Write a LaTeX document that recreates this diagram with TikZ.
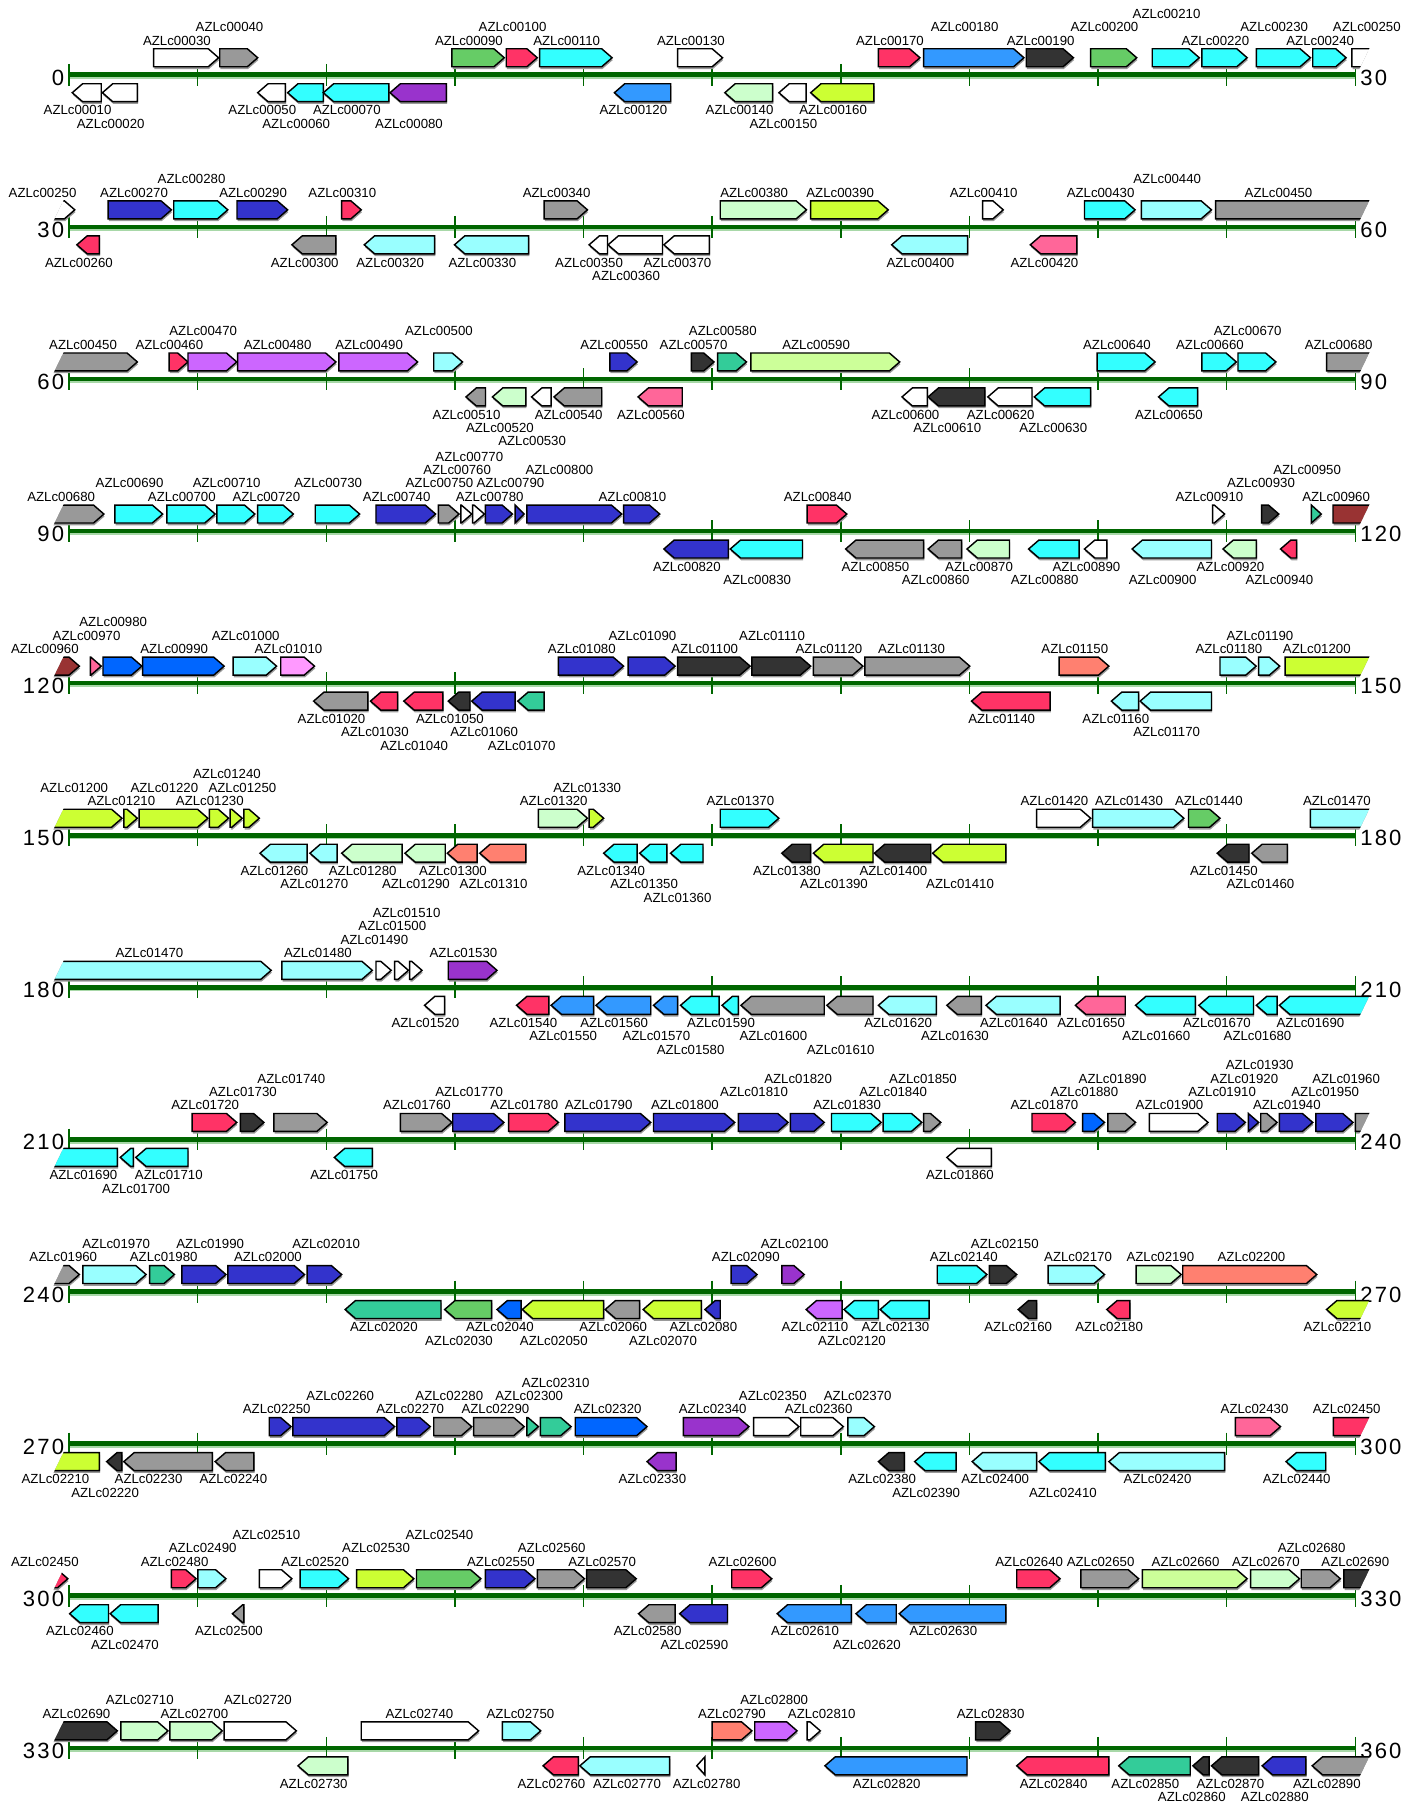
\documentclass[tikz,border=0pt]{standalone}
\usepackage{fontspec}
\setmainfont{Liberation Sans}
\newfontfamily\numfont[LetterSpace=10]{Liberation Sans}
\definecolor{cW}{HTML}{FFFFFF}
\definecolor{cGy}{HTML}{999999}
\definecolor{cR}{HTML}{FF3366}
\definecolor{cC}{HTML}{33FFFF}
\definecolor{cLC}{HTML}{99FFFF}
\definecolor{cB}{HTML}{3399FF}
\definecolor{cDB}{HTML}{3333CC}
\definecolor{cD}{HTML}{333333}
\definecolor{cG}{HTML}{66CC66}
\definecolor{cLG}{HTML}{CCFFCC}
\definecolor{cYG}{HTML}{CCFF33}
\definecolor{cPG}{HTML}{CCFF99}
\definecolor{cPu}{HTML}{9933CC}
\definecolor{cV}{HTML}{CC66FF}
\definecolor{cPk}{HTML}{FF6699}
\definecolor{cT}{HTML}{33CC99}
\definecolor{cRB}{HTML}{0066FF}
\definecolor{cS}{HTML}{FF8070}
\definecolor{cDR}{HTML}{993333}
\definecolor{cLP}{HTML}{FF99FF}
\definecolor{axgreen}{HTML}{006600}
\definecolor{axlight}{HTML}{A8D8A8}
\tikzset{
  gene/.style={draw=black, line width=0.75pt},
  gshadow/.style={fill=black!40},
  lbl/.style={font=\fontsize{6.9}{7}\selectfont, inner sep=0pt},
  num/.style={font=\numfont\fontsize{11.5}{12}\selectfont, inner sep=0pt},
  axisl/.style={draw=axgreen, line width=2.4pt},
  axshadow/.style={draw=axlight, line width=2.4pt},
  tickl/.style={draw=axgreen, line width=0.75pt}
}
\def\topdx{0}
% forward gene (top strand): [label dx]{x1}{x2}{colour}{label}{level}
\newcommand\genef[6][0]{%
  \pgfmathsetmacro\gXa{#2<48 ? #2-40 : #2}%
  \pgfmathsetmacro\gXb{#3>1180 ? #3+40 : #3}%
  \pgfmathsetmacro\gXh{\gXb-min(9,\gXb-\gXa)}%
  \pgfmathsetmacro\gYt{\ay-22.6}%
  \pgfmathsetmacro\gYb{\ay-7}%
  \pgfmathsetmacro\gYm{\ay-14.8}%
  \begin{scope}
    \clip (46,\gYb+3) -- (56,\gYt-2) -- (1191,\gYt-2) -- (1181,\gYb+3) -- cycle;
    \fill[gshadow,shift={(0.6,2)}] (\gXa,\gYt) -- (\gXh,\gYt) -- (\gXb,\gYm) -- (\gXh,\gYb) -- (\gXa,\gYb) -- cycle;
    \draw[gene,fill=#4] (\gXa,\gYt) -- (\gXh,\gYt) -- (\gXb,\gYm) -- (\gXh,\gYb) -- (\gXa,\gYb) -- cycle;
  \end{scope}
  \pgfmathsetmacro\gLx{(#2+#3)/2-8+#1+\topdx}%
  \pgfmathsetmacro\gLy{\ay-29.8-11.6*#6}%
  \node[lbl] (\rid-#5) at (\gLx,\gLy) {#5};
}
% reverse gene (bottom strand)
\newcommand\gener[6][0]{%
  \pgfmathsetmacro\gXa{#2<48 ? #2-40 : #2}%
  \pgfmathsetmacro\gXb{#3>1180 ? #3+40 : #3}%
  \pgfmathsetmacro\gXh{\gXa+min(9,\gXb-\gXa)}%
  \pgfmathsetmacro\gYt{\ay+7.8}%
  \pgfmathsetmacro\gYb{\ay+23.4}%
  \pgfmathsetmacro\gYm{\ay+15.6}%
  \begin{scope}
    \clip (46,\gYb+3) -- (56,\gYt-2) -- (1191,\gYt-2) -- (1181,\gYb+3) -- cycle;
    \fill[gshadow,shift={(0.6,2)}] (\gXa,\gYm) -- (\gXh,\gYt) -- (\gXb,\gYt) -- (\gXb,\gYb) -- (\gXh,\gYb) -- cycle;
    \draw[gene,fill=#4] (\gXa,\gYm) -- (\gXh,\gYt) -- (\gXb,\gYt) -- (\gXb,\gYb) -- (\gXh,\gYb) -- cycle;
  \end{scope}
  \pgfmathsetmacro\gLx{(#2+#3)/2-8+#1}%
  \pgfmathsetmacro\gLy{\ay+31+11.6*#6}%
  \node[lbl] (\rid-#5) at (\gLx,\gLy) {#5};
}
\newcommand\axisrow[2]{%
  \draw[axshadow] (60,\ay+1.5) -- (1178,\ay+1.5);
  \draw[axisl] (60,\ay) -- (1178,\ay);
  \foreach \k in {0,...,10} \draw[tickl] ({60+111.8*\k},\ay-9.5) -- ({60+111.8*\k},\ay+9.5);
  \node[num,anchor=east] (\rid-start) at (56,\ay+2.5) {#1};
  \node[num,anchor=west] (\rid-end) at (1182,\ay+2.5) {#2};
}
\begin{document}
\begin{tikzpicture}[x=0.6pt,y=-0.6pt]
\fill[white] (0,0) rectangle (1232,1568);
\useasboundingbox (0,0) rectangle (1232,1568);

% ---------------- row 0
\def\ay{65}\def\rid{r0}
\axisrow{0}{30}
\genef{133.5}{190}{cW}{AZLc00030}{0}
\genef{191}{224}{cGy}{AZLc00040}{1}
\genef{392.8}{438.3}{cG}{AZLc00090}{0}
\genef{440}{467}{cR}{AZLc00100}{1}
\genef{469}{532}{cC}{AZLc00110}{0}
\genef{589}{628}{cW}{AZLc00130}{0}
\genef{763.5}{799.6}{cR}{AZLc00170}{0}
\genef{802.8}{890}{cB}{AZLc00180}{1}
\genef{892}{933}{cD}{AZLc00190}{0}
\genef{948}{988}{cG}{AZLc00200}{1}
\genef{1001.5}{1042.4}{cC}{AZLc00210}{2}
\genef{1044.7}{1084}{cC}{AZLc00220}{0}
\genef{1092}{1139}{cC}{AZLc00230}{1}
\genef{1141}{1170}{cC}{AZLc00240}{0}
\genef[15.5]{1175}{1186}{cW}{AZLc00250}{1}
\gener{62.8}{88}{cW}{AZLc00010}{0}
\gener{89}{119.4}{cW}{AZLc00020}{1}
\gener{224}{248}{cW}{AZLc00050}{0}
\gener{250}{281}{cC}{AZLc00060}{1}
\gener{281}{338}{cC}{AZLc00070}{0}
\gener{339}{388}{cPu}{AZLc00080}{1}
\gener{534}{583}{cB}{AZLc00120}{0}
\gener{630}{671.6}{cLG}{AZLc00140}{0}
\gener{677}{700.7}{cW}{AZLc00150}{1}
\gener{704.6}{759.6}{cYG}{AZLc00160}{0}

% ---------------- row 1
\def\ay{197.2}\def\rid{r1}
\axisrow{30}{60}
\genef[-11]{47}{65}{cW}{AZLc00250}{0}
\genef[3]{94}{149}{cDB}{AZLc00270}{0}
\genef{151}{198}{cC}{AZLc00280}{1}
\genef{206}{250}{cDB}{AZLc00290}{0}
\genef{297}{314}{cR}{AZLc00310}{0}
\genef{473}{510.6}{cGy}{AZLc00340}{0}
\genef{626}{701}{cLG}{AZLc00380}{0}
\genef{704.6}{772}{cYG}{AZLc00390}{0}
\genef{854}{872}{cW}{AZLc00410}{0}
\genef{942.6}{986.6}{cC}{AZLc00430}{0}
\genef{992}{1053}{cLC}{AZLc00440}{1}
\genef[-4]{1056.5}{1190}{cGy}{AZLc00450}{0}
\gener{66.8}{86.4}{cR}{AZLc00260}{0}
\gener{253.7}{292}{cGy}{AZLc00300}{0}
\gener{316.6}{377.8}{cLC}{AZLc00320}{0}
\gener{395}{459.5}{cLC}{AZLc00330}{0}
\gener{512}{528}{cW}{AZLc00350}{0}
\gener{528.5}{575.8}{cW}{AZLc00360}{1}
\gener{577}{616.6}{cW}{AZLc00370}{0}
\gener{775}{841}{cLC}{AZLc00400}{0}
\gener{895.5}{936}{cPk}{AZLc00420}{0}

% ---------------- row 2
\def\ay{329.4}\def\rid{r2}
\axisrow{60}{90}
\genef[-3]{47}{119.4}{cGy}{AZLc00450}{0}
\genef{147}{163.4}{cR}{AZLc00460}{0}
\genef{163.4}{205.8}{cV}{AZLc00470}{1}
\genef{206.6}{292}{cV}{AZLc00480}{0}
\genef{294.6}{363}{cV}{AZLc00490}{0}
\genef{377}{402}{cLC}{AZLc00500}{1}
\genef{530}{553.8}{cDB}{AZLc00550}{0}
\genef{601}{620.6}{cD}{AZLc00570}{0}
\genef{623.7}{648.8}{cT}{AZLc00580}{1}
\genef{652.7}{782}{cPG}{AZLc00590}{0}
\genef{953.6}{1004}{cC}{AZLc00640}{0}
\genef{1044.7}{1074.6}{cC}{AZLc00660}{0}
\genef{1076}{1109}{cC}{AZLc00670}{1}
\genef{1153}{1190}{cGy}{AZLc00680}{0}
\gener{405}{422}{cGy}{AZLc00510}{0}
\gener{428}{457}{cLG}{AZLc00520}{1}
\gener{462}{479}{cW}{AZLc00530}{2}
\gener{481.5}{523}{cGy}{AZLc00540}{0}
\gener{554.6}{593}{cPk}{AZLc00560}{0}
\gener{784}{806}{cW}{AZLc00600}{0}
\gener{806.7}{856}{cD}{AZLc00610}{1}
\gener{858.6}{897}{cW}{AZLc00620}{0}
\gener{899}{948}{cC}{AZLc00630}{1}
\gener{1007}{1041}{cC}{AZLc00650}{0}

% ---------------- row 3
\def\ay{461.6}\def\rid{r3}
\axisrow{90}{120}
\genef[-7.5]{47}{90.3}{cGy}{AZLc00680}{0}
\genef{99.8}{141.4}{cC}{AZLc00690}{1}
\genef{145}{187}{cC}{AZLc00700}{0}
\genef{188.5}{221.5}{cC}{AZLc00710}{1}
\genef{224}{255}{cC}{AZLc00720}{0}
\genef{274}{312.6}{cC}{AZLc00730}{1}
\genef{326.8}{378.6}{cDB}{AZLc00740}{0}
\genef{381}{399}{cGy}{AZLc00750}{1}
\genef{400.6}{410}{cW}{AZLc00760}{2}
\genef{410.8}{421}{cW}{AZLc00770}{3}
\genef{421.8}{445.4}{cDB}{AZLc00780}{0}
\genef{447.7}{455.6}{cDB}{AZLc00790}{1}
\genef[-5]{458}{540.4}{cDB}{AZLc00800}{2}
\genef{542}{573.4}{cDB}{AZLc00810}{0}
\genef{701.5}{736}{cR}{AZLc00840}{0}
\genef{1054}{1064.4}{cW}{AZLc00910}{0}
\genef{1096.6}{1111.5}{cD}{AZLc00930}{1}
\genef{1139.8}{1148.4}{cT}{AZLc00950}{2}
\genef[-4]{1158.6}{1188}{cDR}{AZLc00960}{0}
\gener{577}{633}{cDB}{AZLc00820}{0}
\gener{634.7}{697.5}{cC}{AZLc00830}{1}
\gener{735}{802.8}{cGy}{AZLc00850}{0}
\gener{806.7}{835.8}{cGy}{AZLc00860}{1}
\gener{840.5}{877.4}{cLG}{AZLc00870}{0}
\gener{894}{938}{cC}{AZLc00880}{1}
\gener{942.6}{962}{cW}{AZLc00890}{0}
\gener{984}{1053}{cLC}{AZLc00900}{1}
\gener{1063}{1092}{cLG}{AZLc00920}{0}
\gener{1113}{1127}{cR}{AZLc00940}{1}

% ---------------- row 4
\def\ay{593.8}\def\rid{r4}
\axisrow{120}{150}
\genef[-11]{47}{69}{cDR}{AZLc00960}{0}
\genef{78.5}{88}{cPk}{AZLc00970}{1}
\genef{89.5}{123.3}{cRB}{AZLc00980}{2}
\genef{124}{194.8}{cRB}{AZLc00990}{0}
\genef{202.6}{240.4}{cLC}{AZLc01000}{1}
\genef{244}{273.4}{cLP}{AZLc01010}{0}
\genef{485.4}{542}{cDB}{AZLc01080}{0}
\genef{546}{586.8}{cDB}{AZLc01090}{1}
\genef{589}{652}{cD}{AZLc01100}{0}
\genef{653.5}{704.6}{cD}{AZLc01110}{1}
\genef{707}{750}{cGy}{AZLc01120}{0}
\genef[3]{751.7}{842.9}{cGy}{AZLc01130}{0}
\genef{920.6}{963.8}{cS}{AZLc01150}{0}
\genef{1060.4}{1091.8}{cLC}{AZLc01180}{0}
\genef{1094}{1112.3}{cLC}{AZLc01190}{1}
\genef{1117}{1188}{cYG}{AZLc01200}{0}
\gener{272.6}{319.7}{cGy}{AZLc01020}{0}
\gener{322}{345.6}{cR}{AZLc01030}{1}
\gener{351}{385}{cR}{AZLc01040}{2}
\gener{389.6}{408.5}{cD}{AZLc01050}{0}
\gener{410}{447.7}{cDB}{AZLc01060}{1}
\gener{450}{473}{cT}{AZLc01070}{2}
\gener{844.4}{912.8}{cR}{AZLc01140}{0}
\gener{966}{989.7}{cLC}{AZLc01160}{0}
\gener{991}{1053}{cLC}{AZLc01170}{1}

% ---------------- row 5
\def\ay{726}\def\rid{r5}
\axisrow{150}{180}
\genef[-4]{47}{106}{cYG}{AZLc01200}{1}
\genef{107.6}{119.4}{cYG}{AZLc01210}{0}
\genef{121}{180.7}{cYG}{AZLc01220}{1}
\genef{182}{198.7}{cYG}{AZLc01230}{0}
\genef{200}{210.5}{cYG}{AZLc01240}{2}
\genef{212}{225.4}{cYG}{AZLc01250}{1}
\genef{468}{510.6}{cLG}{AZLc01320}{0}
\genef{512}{524.7}{cYG}{AZLc01330}{1}
\genef{626}{677}{cC}{AZLc01370}{0}
\genef{901}{948}{cW}{AZLc01420}{0}
\genef{949.7}{1029}{cLC}{AZLc01430}{0}
\genef[12]{1033}{1060.4}{cG}{AZLc01440}{0}
\genef[5.5]{1139}{1190}{cLC}{AZLc01470}{0}
\gener{226}{267}{cLC}{AZLc01260}{0}
\gener{269.4}{293}{cLC}{AZLc01270}{1}
\gener{297}{349.5}{cLG}{AZLc01280}{0}
\gener{352}{387}{cLG}{AZLc01290}{1}
\gener{388.8}{414.7}{cS}{AZLc01300}{0}
\gener{417}{457}{cS}{AZLc01310}{1}
\gener{524.7}{553.8}{cC}{AZLc01340}{0}
\gener{556}{579.7}{cC}{AZLc01350}{1}
\gener{582.8}{611}{cC}{AZLc01360}{2}
\gener{679.5}{704.6}{cD}{AZLc01380}{0}
\gener{707}{758.8}{cYG}{AZLc01390}{1}
\gener{760}{809}{cD}{AZLc01400}{0}
\gener{810.6}{874.3}{cYG}{AZLc01410}{1}
\gener{1058}{1085.6}{cD}{AZLc01450}{0}
\gener{1088}{1119}{cGy}{AZLc01460}{1}

% ---------------- row 6
\def\ay{858.2}\def\rid{r6}
\axisrow{180}{210}
\genef[-3.5]{47}{235.7}{cLC}{AZLc01470}{0}
\genef{245}{323.6}{cLC}{AZLc01480}{0}
\genef{326.8}{340}{cW}{AZLc01490}{1}
\genef{343}{355}{cW}{AZLc01500}{2}
\genef{356}{366.8}{cW}{AZLc01510}{3}
\genef{389.6}{432}{cPu}{AZLc01530}{0}
\gener{369}{386.5}{cW}{AZLc01520}{0}
\gener{449}{477}{cR}{AZLc01540}{0}
\gener{479}{516}{cB}{AZLc01550}{1}
\gener{518}{565.6}{cB}{AZLc01560}{0}
\gener{568}{589}{cB}{AZLc01570}{1}
\gener{591.5}{625}{cC}{AZLc01580}{2}
\gener{627.6}{641.8}{cC}{AZLc01590}{0}
\gener{644}{716.4}{cGy}{AZLc01600}{1}
\gener{718.7}{758.8}{cGy}{AZLc01610}{2}
\gener{763.5}{813.8}{cLC}{AZLc01620}{0}
\gener{823}{853}{cGy}{AZLc01630}{1}
\gener{857}{921.4}{cLC}{AZLc01640}{0}
\gener{934.7}{978}{cPk}{AZLc01650}{0}
\gener{987}{1039}{cC}{AZLc01660}{1}
\gener{1042}{1089.5}{cC}{AZLc01670}{0}
\gener{1092}{1110}{cC}{AZLc01680}{1}
\gener[-4]{1112}{1190}{cC}{AZLc01690}{0}

% ---------------- row 7
\def\ay{990.4}\def\rid{r7}
\axisrow{210}{240}
\genef{167}{205.8}{cR}{AZLc01720}{0}
\genef{209}{229.4}{cD}{AZLc01730}{1}
\genef{238}{284.4}{cGy}{AZLc01740}{2}
\genef{348}{392.8}{cGy}{AZLc01760}{0}
\genef{393.5}{438}{cDB}{AZLc01770}{1}
\genef{442}{485.4}{cR}{AZLc01780}{0}
\genef{491}{565.6}{cDB}{AZLc01790}{0}
\genef{568}{638.6}{cDB}{AZLc01800}{0}
\genef{641.8}{685}{cDB}{AZLc01810}{1}
\genef{687}{716.4}{cDB}{AZLc01820}{2}
\genef{722.7}{765.9}{cC}{AZLc01830}{0}
\genef{767.5}{801.2}{cC}{AZLc01840}{1}
\genef{802.8}{817.7}{cGy}{AZLc01850}{2}
\genef{897}{934.7}{cR}{AZLc01870}{0}
\genef{941}{960}{cRB}{AZLc01880}{1}
\genef{963}{987}{cGy}{AZLc01890}{2}
\genef{999}{1050}{cW}{AZLc01900}{0}
\genef{1058}{1082.4}{cDB}{AZLc01910}{1}
\genef{1085}{1094}{cDB}{AZLc01920}{2}
\genef{1095.8}{1110}{cGy}{AZLc01930}{3}
\genef{1112}{1141}{cDB}{AZLc01940}{0}
\genef{1143.7}{1176}{cDB}{AZLc01950}{1}
\genef[-5]{1178}{1188}{cGy}{AZLc01960}{2}
\gener[6]{47}{102}{cC}{AZLc01690}{0}
\gener[16]{104.5}{116}{cC}{AZLc01700}{1}
\gener[14]{118}{163.4}{cC}{AZLc01710}{0}
\gener{290.6}{323.6}{cC}{AZLc01750}{0}
\gener{823}{861.7}{cW}{AZLc01860}{0}

% ---------------- row 8
\def\ay{1122.6}\def\rid{r8}\def\topdx{9.5}
\axisrow{240}{270}
\genef[-4.5]{47}{69}{cGy}{AZLc01960}{0}
\genef{72}{127}{cLC}{AZLc01970}{1}
\genef{130}{151.6}{cT}{AZLc01980}{0}
\genef[4]{158}{196.4}{cDB}{AZLc01990}{1}
\genef{198}{264.7}{cDB}{AZLc02000}{0}
\genef{267}{297}{cDB}{AZLc02010}{1}
\genef{635.5}{658}{cDB}{AZLc02090}{0}
\genef{679.5}{699}{cPu}{AZLc02100}{1}
\genef{814.6}{857.8}{cC}{AZLc02140}{0}
\genef{860}{883.7}{cD}{AZLc02150}{1}
\genef{911}{960}{cLC}{AZLc02170}{0}
\genef{987.4}{1026.7}{cLG}{AZLc02190}{0}
\genef{1028}{1144.5}{cS}{AZLc02200}{0}
\gener{300}{383.3}{cT}{AZLc02020}{0}
\gener{386.5}{427.3}{cG}{AZLc02030}{1}
\gener{432}{453}{cRB}{AZLc02040}{0}
\gener{454}{524.7}{cYG}{AZLc02050}{1}
\gener{526}{556}{cGy}{AZLc02060}{0}
\gener{559}{609.6}{cYG}{AZLc02070}{1}
\gener{612.7}{626}{cDB}{AZLc02080}{0}
\gener{700.7}{732}{cV}{AZLc02110}{0}
\gener{733.6}{763.5}{cC}{AZLc02120}{1}
\gener{765}{807.5}{cC}{AZLc02130}{0}
\gener{885}{901}{cD}{AZLc02160}{0}
\gener{962}{982}{cR}{AZLc02180}{0}
\gener{1153}{1188}{cYG}{AZLc02210}{0}

% ---------------- row 9
\def\ay{1254.8}\def\rid{r9}\def\topdx{5}
\axisrow{270}{300}
\genef{234}{253}{cDB}{AZLc02250}{0}
\genef{254.5}{343}{cDB}{AZLc02260}{1}
\genef{345}{374}{cDB}{AZLc02270}{0}
\genef{377}{410}{cGy}{AZLc02280}{1}
\genef{411.6}{455.6}{cGy}{AZLc02290}{0}
\genef{458}{468}{cT}{AZLc02300}{1}
\genef[3]{469.7}{496.4}{cT}{AZLc02310}{2}
\genef{500}{562.4}{cRB}{AZLc02320}{0}
\genef{594}{651}{cPu}{AZLc02340}{0}
\genef{655}{694.4}{cW}{AZLc02350}{1}
\genef{696}{733}{cW}{AZLc02360}{0}
\genef{737}{760}{cLC}{AZLc02370}{1}
\genef{1073.8}{1113}{cPk}{AZLc02430}{0}
\genef{1159}{1188}{cR}{AZLc02450}{0}
\gener[-10.5]{47}{86.4}{cYG}{AZLc02210}{0}
\gener{92.7}{106}{cD}{AZLc02220}{1}
\gener[-9]{107.6}{184.6}{cGy}{AZLc02230}{0}
\gener[7]{187}{220.7}{cGy}{AZLc02240}{0}
\gener{562.4}{587.6}{cPu}{AZLc02330}{0}
\gener{763.5}{786}{cD}{AZLc02380}{0}
\gener{795}{831}{cC}{AZLc02390}{1}
\gener{845}{901}{cLC}{AZLc02400}{0}
\gener{903}{960.7}{cC}{AZLc02410}{1}
\gener{963.8}{1064.4}{cLC}{AZLc02420}{0}
\gener{1117.8}{1152.3}{cC}{AZLc02440}{0}

% ---------------- row 10
\def\ay{1387}\def\rid{r10}\def\topdx{0}
\axisrow{300}{330}
\genef[-6]{47}{59}{cR}{AZLc02450}{0}
\genef{149}{170.5}{cR}{AZLc02480}{0}
\genef{172}{196.4}{cLC}{AZLc02490}{1}
\genef{225.4}{253.7}{cW}{AZLc02510}{2}
\genef{260.8}{303}{cC}{AZLc02520}{0}
\genef{310}{359.7}{cYG}{AZLc02530}{1}
\genef{362}{418}{cG}{AZLc02540}{2}
\genef{421.8}{465}{cDB}{AZLc02550}{0}
\genef{467}{508}{cGy}{AZLc02560}{1}
\genef{509.8}{553}{cD}{AZLc02570}{0}
\genef{636}{670.8}{cR}{AZLc02600}{0}
\genef{883.7}{921.4}{cR}{AZLc02640}{0}
\genef{939.5}{989.7}{cGy}{AZLc02650}{0}
\genef{992.9}{1084}{cPG}{AZLc02660}{0}
\genef{1087}{1129.5}{cLG}{AZLc02670}{0}
\genef{1131}{1165}{cGy}{AZLc02680}{1}
\genef[9]{1168}{1186}{cD}{AZLc02690}{0}
\gener{60.5}{94.3}{cC}{AZLc02460}{0}
\gener{95.8}{137.5}{cC}{AZLc02470}{1}
\gener{202}{212}{cGy}{AZLc02500}{0}
\gener{555}{586.8}{cGy}{AZLc02580}{0}
\gener{590.7}{632.3}{cDB}{AZLc02590}{1}
\gener{675.5}{740}{cB}{AZLc02610}{0}
\gener{744}{779}{cB}{AZLc02620}{1}
\gener{781.6}{874.3}{cB}{AZLc02630}{0}

% ---------------- row 11
\def\ay{1519.2}\def\rid{r11}
\axisrow{330}{360}
\genef{47}{102}{cD}{AZLc02690}{0}
\genef[4]{105}{146}{cLG}{AZLc02710}{1}
\genef[6.5]{147.7}{193.2}{cLG}{AZLc02700}{0}
\genef[6]{194.8}{257.6}{cW}{AZLc02720}{1}
\genef[7.6]{314}{416}{cW}{AZLc02740}{0}
\genef[7]{436.7}{470}{cLC}{AZLc02750}{0}
\genef[8]{619}{653.5}{cS}{AZLc02790}{0}
\genef[6.5]{656}{692.8}{cV}{AZLc02800}{1}
\genef[15]{701.5}{713}{cW}{AZLc02810}{0}
\genef[6]{848}{878}{cD}{AZLc02830}{0}
\gener{259}{302.4}{cLG}{AZLc02730}{0}
\gener{472}{502.7}{cR}{AZLc02760}{0}
\gener[10]{504}{582}{cLC}{AZLc02770}{0}
\gener[13]{605.6}{612.7}{cW}{AZLc02780}{0}
\gener{717}{840.5}{cB}{AZLc02820}{0}
\gener{883.7}{963.8}{cR}{AZLc02840}{0}
\gener{972.4}{1034.5}{cT}{AZLc02850}{0}
\gener{1036.8}{1051}{cD}{AZLc02860}{1}
\gener[4]{1053}{1094}{cD}{AZLc02870}{0}
\gener{1097}{1135}{cDB}{AZLc02880}{1}
\gener[-4]{1140.5}{1190}{cGy}{AZLc02890}{0}
\end{tikzpicture}
\end{document}
